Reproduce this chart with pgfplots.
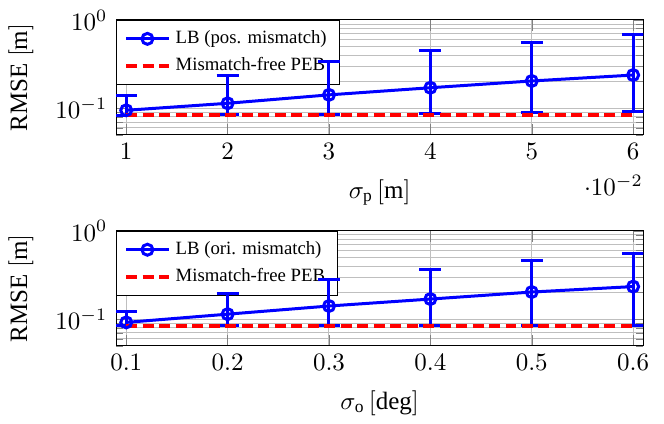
\documentclass[border=0pt]{standalone}
\usepackage{pgfplots}
\pgfplotsset{compat=1.18}
\usepackage{pgfplotstable}
\usepackage{fontspec}
\setmainfont{Liberation Serif}

\pgfplotsset{
  layers/legendbelow/.define layer set={
    axis background,axis grid,axis ticks,axis lines,axis tick labels,
    axis descriptions,pre main,main,axis foreground
  }{/pgfplots/layers/standard},
}

\pgfplotstableread{
x y ep em
0.01 0.095 0.043 0.011
0.02 0.114 0.119 0.029
0.03 0.142 0.199 0.056
0.04 0.171 0.283 0.083
0.05 0.204 0.359 0.114
0.06 0.238 0.449 0.145
}\posdata
\pgfplotstableread{
x y ep em
0.1 0.092 0.030 0.008
0.2 0.114 0.083 0.030
0.3 0.141 0.138 0.057
0.4 0.169 0.200 0.085
0.5 0.203 0.255 0.119
0.6 0.234 0.325 0.150
}\oridata
\pgfplotstableread{
x y
0.01 0.084
0.02 0.084
0.03 0.084
0.04 0.084
0.05 0.084
0.06 0.084
}\pebpos
\pgfplotstableread{
x y
0.1 0.084
0.2 0.084
0.3 0.084
0.4 0.084
0.5 0.084
0.6 0.084
}\pebori

\begin{document}
\begin{tikzpicture}
\begin{axis}[
  set layers=legendbelow,
  scale only axis,
  width=211pt, height=46pt,
  ymode=log, ymin=0.05, ymax=1,
  grid=both,
  ylabel={$\mathrm{RMSE}\ [\mathrm{m}]$},
  ylabel shift=2pt,
  xlabel shift=1pt,
  legend cell align=left,
  legend style={at={(0,1)}, anchor=north west, draw=black,
    font=\fontsize{7.5}{9}\selectfont},
  xmin=0.009, xmax=0.061,
  xtick={0.01,0.02,0.03,0.04,0.05,0.06},
  every x tick scale label/.style={at={(xticklabel cs:1,2.5pt)}, anchor=north east, inner sep=0pt},
  xlabel={$\sigma_{\mathrm{p}}\,[\mathrm{m}]$},
]
\addplot[blue, line width=1.2pt, mark=o, mark size=2.2pt,
  error bars/.cd, y dir=both, y explicit,
  error bar style={line width=1.2pt},
  error mark options={rotate=90, mark size=4.4pt, line width=1.2pt, blue}]
  table[x=x, y=y, y error plus=ep, y error minus=em] {\posdata};
\addlegendentry{LB (pos. mismatch)}
\addplot[red, line width=1.6pt, dash pattern=on 4.4pt off 2.2pt]
  table[x=x, y=y] {\pebpos};
\addlegendentry{Mismatch-free PEB}
\path (rel axis cs:1,1) ++(8.3pt,8pt) coordinate (corner);
\end{axis}
\path (corner) circle (0pt);

\begin{axis}[
  set layers=legendbelow,
  at={(0,-84.4pt)},
  scale only axis,
  width=211pt, height=46pt,
  ymode=log, ymin=0.05, ymax=1,
  grid=both,
  ylabel={$\mathrm{RMSE}\ [\mathrm{m}]$},
  ylabel shift=2pt,
  xlabel shift=1pt,
  legend cell align=left,
  legend style={at={(0,1)}, anchor=north west, draw=black,
    font=\fontsize{7.5}{9}\selectfont},
  xmin=0.09, xmax=0.61,
  xtick={0.1,0.2,0.3,0.4,0.5,0.6},
  scaled x ticks=false,
  xlabel={$\sigma_{\mathrm{o}}\,[\mathrm{deg}]$},
]
\addplot[blue, line width=1.2pt, mark=o, mark size=2.2pt,
  error bars/.cd, y dir=both, y explicit,
  error bar style={line width=1.2pt},
  error mark options={rotate=90, mark size=4.4pt, line width=1.2pt, blue}]
  table[x=x, y=y, y error plus=ep, y error minus=em] {\oridata};
\addlegendentry{LB (ori. mismatch)}
\addplot[red, line width=1.6pt, dash pattern=on 4.4pt off 2.2pt]
  table[x=x, y=y] {\pebori};
\addlegendentry{Mismatch-free PEB}
\end{axis}
\end{tikzpicture}
\end{document}
